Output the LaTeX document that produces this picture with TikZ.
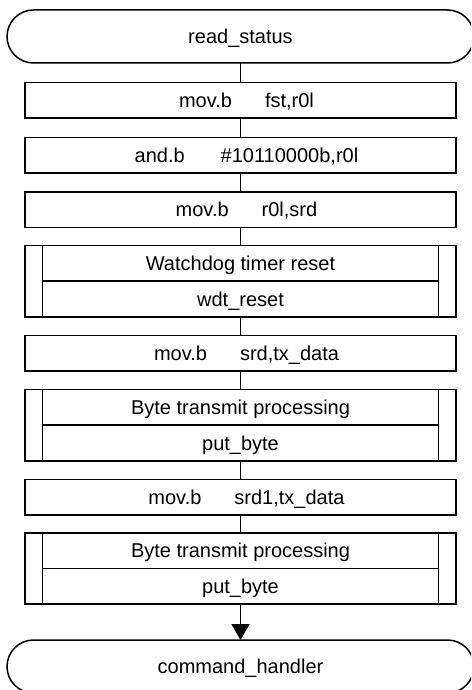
\documentclass[tikz,border=0pt]{standalone}
\usepackage{fontspec}
\setmainfont{Liberation Sans}
\usetikzlibrary{arrows.meta}

\begin{document}
\begin{tikzpicture}[
  x=1pt, y=-1pt,
  every node/.style={font=\fontsize{20}{24}\selectfont, inner sep=0pt, outer sep=0pt,
                     text height=14.3pt, text depth=0pt},
  line/.style={line width=1.5pt},
  terminal/.style={line, draw, rectangle, rounded corners=26.5pt,
                   minimum width=467pt, minimum height=53pt},
  procbox/.style={line, draw, rectangle, minimum width=431pt, minimum height=35.5pt},
  subhalf/.style={line, draw, rectangle, minimum width=396pt, minimum height=35.5pt},
  flow/.style={line},
  flowarrow/.style={line, -{Triangle[length=16pt,width=18pt]}}
]
\useasboundingbox (0,0) rectangle (471,690);
\clip (0,0) rectangle (471,690);

% instruction text with a tab after the mnemonic
\newcommand{\instr}[2]{\hspace*{12pt}\makebox[86pt][l]{#1}#2}

% start / end terminals
\node[terminal] (start) at (240.5,36.5) {read\_status};
\node[terminal] (finish) at (240.5,666.5) {command\_handler};

% plain steps
\node[procbox] (s1) at (240.5,100.5) {\instr{mov.b}{fst,r0l}};
\node[procbox] (s2) at (240.5,155)   {\instr{and.b}{\#10110000b,r0l}};
\node[procbox] (s3) at (240.5,209.5) {\instr{mov.b}{r0l,srd}};
\node[procbox] (s4) at (240.5,353)   {\instr{mov.b}{srd,tx\_data}};
\node[procbox] (s5) at (240.5,497)   {\instr{mov.b}{srd1,tx\_data}};

% subroutine calls: description on top, routine name below
\node[subhalf] (wdtA) at (240.5,263) {Watchdog timer reset};
\node[subhalf] (wdtB) at (240.5,299) {wdt\_reset};
\node[subhalf] (txaA) at (240.5,407) {Byte transmit processing};
\node[subhalf] (txaB) at (240.5,443) {put\_byte};
\node[subhalf] (txbA) at (240.5,550.75) {Byte transmit processing};
\node[subhalf] (txbB) at (240.5,586.25) {put\_byte};

% outer frames of the subroutine boxes
\draw[line] ([xshift=-17.5pt]wdtA.north west) rectangle ([xshift=17.5pt]wdtB.south east);
\draw[line] ([xshift=-17.5pt]txaA.north west) rectangle ([xshift=17.5pt]txaB.south east);
\draw[line] ([xshift=-17.5pt]txbA.north west) rectangle ([xshift=17.5pt]txbB.south east);

% flow lines
\draw[flow] (start.south) -- (s1.north);
\draw[flow] (s1.south) -- (s2.north);
\draw[flow] (s2.south) -- (s3.north);
\draw[flow] (s3.south) -- (wdtA.north);
\draw[flow] (wdtB.south) -- (s4.north);
\draw[flow] (s4.south) -- (txaA.north);
\draw[flow] (txaB.south) -- (s5.north);
\draw[flow] (s5.south) -- (txbA.north);
\draw[flowarrow] (txbB.south) -- (finish.north);
\end{tikzpicture}
\end{document}
